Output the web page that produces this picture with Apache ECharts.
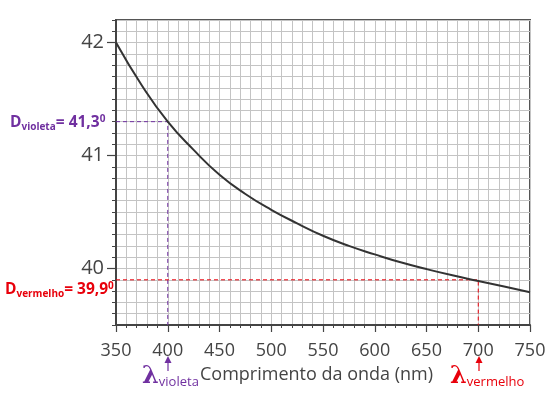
<!DOCTYPE html>
<html>
<head>
<meta charset="utf-8">
<script src="https://cdn.jsdelivr.net/npm/echarts@6/dist/echarts.min.js"></script>
<style>
html, body { margin: 0; padding: 0; background: #fff; }
#chart { width: 553px; height: 399px; }
</style>
</head>
<body>
<div id="chart"></div>
<script>
// desvio mínimo x comprimento de onda
var lambdas = [350, 375, 400, 425, 450, 475, 500, 525, 550, 575, 600, 625, 650, 675, 700, 725, 750];
var desvios = [42.00, 41.62, 41.30, 41.05, 40.83, 40.66, 40.52, 40.40, 40.29, 40.20, 40.125, 40.055, 39.995, 39.94, 39.89, 39.84, 39.79];
var yLabels = [40, 41, 42];
var violeta = [[350, 41.3], [400, 41.3], [400, 39.5]];
var vermelho = [[350, 39.9], [700, 39.9], [700, 39.5]];

var chart = echarts.init(document.getElementById("chart"));
var fonte = '"Open Sans", "Noto Sans", sans-serif';
var cinza = '#444';
var roxo = '#7030a0';
var verm = '#e8000b';

var curva = [];
for (var i = 0; i < lambdas.length; i++) {
	curva.push([lambdas[i], desvios[i]]);
}

function seta(x, cor) {
	return {
		type: 'group',
		children: [
			{ type: 'line', shape: { x1: x, y1: 371, x2: x, y2: 362 }, style: { stroke: cor, lineWidth: 1.2 } },
			{ type: 'polygon', shape: { points: [[x - 3.5, 363], [x + 3.5, 363], [x, 356]] }, style: { fill: cor } }
		]
	};
}

function rotulo(sub, valor, cor) {
	return {
		text: '{d|D}{s|' + sub + '}{d|= ' + valor + '}{p|0}',
		rich: {
			d: { fontSize: 15.5, fontWeight: 'bold', fill: cor, fontFamily: fonte },
			s: { fontSize: 10, fontWeight: 'bold', fill: cor, fontFamily: fonte, padding: [8, 0, 0, 0] },
			p: { fontSize: 10, fontWeight: 'bold', fill: cor, fontFamily: fonte, padding: [0, 0, 8, 0] }
		}
	};
}

function lambda(sub, cor) {
	return {
		text: '{l|λ}{s|' + sub + '}',
		rich: {
			l: { fontSize: 24, fontWeight: 'bold', fill: cor, fontFamily: '"DejaVu Serif", serif' },
			s: { fontSize: 13, fill: cor, fontFamily: fonte, padding: [10, 0, 0, 0] }
		}
	};
}

var option = {
	animation: false,
	grid: {
		left: 116, right: 23, top: 20, bottom: 74,
		show: true, borderColor: '#555', borderWidth: 2
	},
	xAxis: [{
		type: 'value', min: 350, max: 750, interval: 10,
		axisLine: { show: true, onZero: false, lineStyle: { color: cinza, width: 2 } },
		axisTick: { show: true, length: 3, lineStyle: { color: cinza } },
		axisLabel: { show: false },
		splitLine: { show: true, lineStyle: { color: '#c4c4c4', width: 1 } }
	}, {
		type: 'value', min: 350, max: 750, interval: 50, position: 'bottom',
		axisLine: { show: false },
		axisTick: { show: true, length: 7, lineStyle: { color: cinza, width: 1.2 } },
		axisLabel: { color: cinza, fontSize: 18, fontFamily: fonte, margin: 17 },
		splitLine: { show: false }
	}],
	yAxis: [{
		type: 'value', min: 39.5, max: 42.2, interval: 0.1,
		axisLine: { show: true, onZero: false, lineStyle: { color: cinza, width: 2 } },
		axisTick: { show: true, length: 4, lineStyle: { color: cinza } },
		axisLabel: { show: false },
		splitLine: { show: true, lineStyle: { color: '#c4c4c4', width: 1 } }
	}, {
		type: 'value', min: 39.5, max: 42.2, position: 'left',
		axisLine: { show: false },
		axisTick: { show: true, length: 9, customValues: yLabels, lineStyle: { color: cinza, width: 1.2 } },
		axisLabel: { customValues: yLabels, color: cinza, fontSize: 20, fontFamily: fonte, margin: 12 },
		splitLine: { show: false }
	}],
	series: [{
		type: 'line', data: violeta, symbol: 'none', silent: true,
		lineStyle: { color: roxo, width: 1, type: [4, 3] }
	}, {
		type: 'line', data: vermelho, symbol: 'none', silent: true,
		lineStyle: { color: verm, width: 1, type: [4, 3] }
	}, {
		type: 'line', data: curva, symbol: 'none', smooth: true, silent: true,
		lineStyle: { color: '#333', width: 2 }
	}],
	graphic: [
		{ type: 'text', left: 10, top: 114, style: rotulo('violeta', '41,3', roxo) },
		{ type: 'text', left: 5, top: 281, style: rotulo('vermelho', '39,9', verm) },
		{ type: 'text', left: 142, top: 365, style: lambda('violeta', roxo) },
		{ type: 'text', left: 200, top: 366, style: { text: 'Comprimento da onda (nm)', fontSize: 18, fill: cinza, fontFamily: fonte } },
		{ type: 'text', left: 450, top: 365, style: lambda('vermelho', verm) },
		seta(168, roxo), seta(479, verm)
	]
};

chart.setOption(option);
</script>
</body>
</html>
